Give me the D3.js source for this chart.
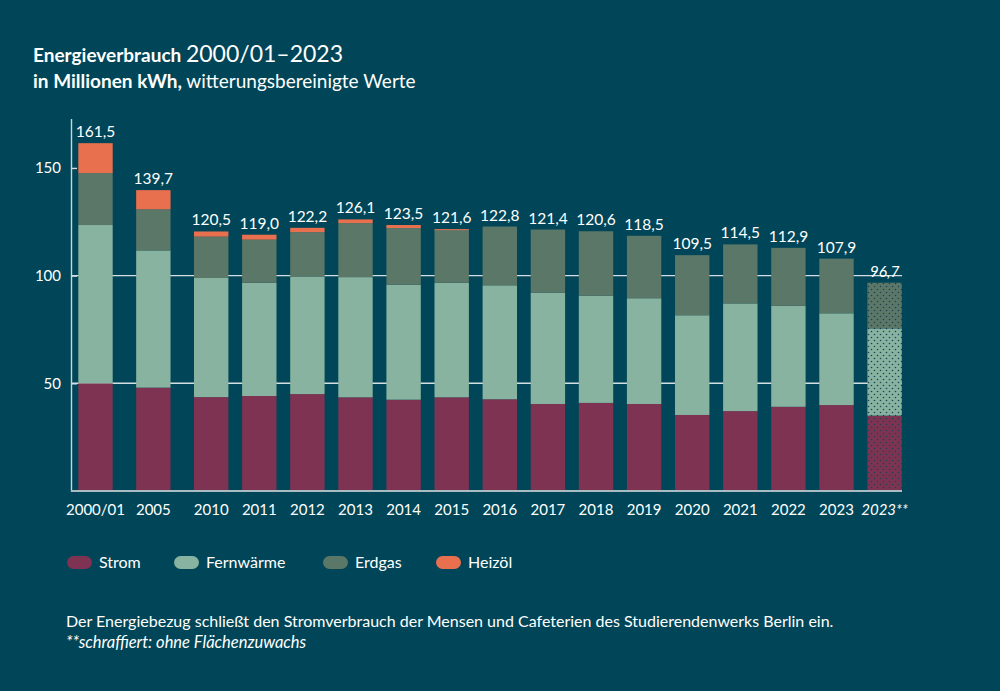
<!DOCTYPE html>
<html>
<head>
<meta charset="utf-8">
<script src="https://cdn.jsdelivr.net/npm/d3@7"></script>
<style>
  body { margin: 0; background: #004658; }
  svg { display: block; font-family: Lato, "Open Sans", sans-serif; }
</style>
</head>
<body>
<div id="chart"></div>
<script>
const width = 1000;
const height = 691;

// data (Mio. kWh)
const years = ["2000/01", "2005", "2010", "2011", "2012", "2013", "2014", "2015", "2016",
               "2017", "2018", "2019", "2020", "2021", "2022", "2023", "2023**"];
const strom = [50.0, 48.0, 43.6, 44.1, 45.0, 43.5, 42.4, 43.5, 42.6, 40.4, 40.9, 40.4, 35.3, 37.1, 39.1, 39.9, 35.0];
const fernwaerme = [73.5, 63.7, 55.3, 52.6, 54.5, 55.8, 53.4, 53.2, 52.9, 51.7, 49.8, 49.1, 46.3, 50.0, 46.9, 42.6, 40.5];
const erdgas = [24.1, 19.1, 19.2, 20.0, 20.7, 25.1, 26.3, 24.6, 27.3, 29.3, 29.9, 29.0, 27.9, 27.4, 26.9, 25.4, 21.2];
const heizoel = [13.9, 8.9, 2.4, 2.3, 2.0, 1.7, 1.4, 0.3, 0, 0, 0, 0, 0, 0, 0, 0, 0];
const totalLabels = ["161,5", "139,7", "120,5", "119,0", "122,2", "126,1", "123,5", "121,6", "122,8",
                     "121,4", "120,6", "118,5", "109,5", "114,5", "112,9", "107,9", "96,7"];
const hatched = ["2023**"];  // schraffiert: ohne Flächenzuwachs
const seriesNames = ["Strom", "Fernwärme", "Erdgas", "Heizöl"];
const yTicks = [50, 100, 150];
const gridTicks = [50, 100];

const colors = ["#7d3351", "#87b3a0", "#5b7768", "#e8704f"];
const bg = "#004658";

const svg = d3.select("#chart").append("svg")
    .attr("width", width)
    .attr("height", height);

svg.append("rect").attr("width", width).attr("height", height).attr("fill", bg);

// dotted patterns for the hatched bar
const defs = svg.append("defs");
colors.forEach((c, i) => {
  const p = defs.append("pattern")
      .attr("id", "dots" + i)
      .attr("patternUnits", "userSpaceOnUse")
      .attr("width", 6).attr("height", 6);
  p.append("rect").attr("width", 6).attr("height", 6).attr("fill", c);
  p.append("circle").attr("cx", 1.5).attr("cy", 1.5).attr("r", 0.8).attr("fill", "#1f4255");
  p.append("circle").attr("cx", 4.5).attr("cy", 4.5).attr("r", 0.8).attr("fill", "#1f4255");
});

// title
const title = svg.append("text").attr("x", 33).attr("y", 62).attr("fill", "#fff");
title.append("tspan").attr("font-weight", 700).attr("font-size", 19).text("Energieverbrauch ");
title.append("tspan").attr("font-size", 23).text("2000/01–2023");

const sub = svg.append("text").attr("x", 33).attr("y", 88).attr("fill", "#fff").attr("font-size", 19);
sub.append("tspan").attr("font-weight", 700).text("in Millionen kWh,");
sub.append("tspan").text(" witterungsbereinigte Werte");

// scales
const x = d3.scaleBand()
    .domain(years)
    .range([97.8, 901.8])
    .paddingInner(0.285)
    .paddingOuter(0);

// the first two bars sit a little further apart
const extraGap = 9.75;
const xPos = d => x(d) - extraGap * Math.max(0, 2 - years.indexOf(d));

const y = d3.scaleLinear()
    .domain([0, 173])
    .range([491, 118.4]);

const rows = years.map((yr, i) => ({
  year: yr, Strom: strom[i], "Fernwärme": fernwaerme[i], Erdgas: erdgas[i], "Heizöl": heizoel[i], label: totalLabels[i]
}));
const stacked = d3.stack().keys(seriesNames)(rows);

// grid lines
svg.append("g")
  .selectAll("line")
  .data(gridTicks)
  .join("line")
    .attr("x1", 71).attr("x2", 902)
    .attr("y1", d => y(d)).attr("y2", d => y(d))
    .attr("stroke", "#d5dfe2")
    .attr("stroke-width", 1.4);

// bars
svg.append("g")
  .selectAll("g")
  .data(stacked)
  .join("g")
  .each(function(s, si) {
    d3.select(this).selectAll("rect")
      .data(s.filter(d => d[1] - d[0] > 0))
      .join("rect")
        .attr("x", d => xPos(d.data.year))
        .attr("width", x.bandwidth())
        .attr("y", d => y(d[1]))
        .attr("height", d => Math.max(1, y(d[0]) - y(d[1])))
        .attr("fill", d => hatched.includes(d.data.year) ? `url(#dots${si})` : colors[si]);
  });

// total labels
svg.append("g")
  .attr("fill", "#fff")
  .attr("font-size", 15.5)
  .attr("text-anchor", "middle")
  .selectAll("text")
  .data(rows)
  .join("text")
    .attr("x", d => xPos(d.year) + x.bandwidth() / 2)
    .attr("y", d => y(d.Strom + d["Fernwärme"] + d.Erdgas + d["Heizöl"]) - 6)
    .attr("font-style", d => hatched.includes(d.year) ? "italic" : null)
    .text(d => d.label);

// y axis
const yAxis = svg.append("g")
    .attr("transform", "translate(71,0)")
    .call(d3.axisRight(y).tickValues(yTicks).tickSize(6).tickSizeOuter(0))
    .call(g => g.select(".domain").attr("stroke", "#c9d5d9").attr("stroke-width", 1.4));
yAxis.selectAll(".tick line").attr("stroke", "#d5dfe2").attr("stroke-width", 1.4);
yAxis.selectAll(".tick text")
    .attr("x", -10)
    .attr("text-anchor", "end")
    .attr("fill", "#fff")
    .attr("font-size", 15)
    .attr("font-family", "Lato, sans-serif");

// x axis baseline
svg.append("line")
    .attr("x1", 71).attr("x2", 902)
    .attr("y1", 491).attr("y2", 491)
    .attr("stroke", "#a9bcc2")
    .attr("stroke-width", 2);

// x labels
svg.append("g")
  .attr("fill", "#fff")
  .attr("font-size", 15)
  .attr("text-anchor", "middle")
  .selectAll("text")
  .data(years)
  .join("text")
    .attr("x", d => xPos(d) + x.bandwidth() / 2)
    .attr("y", 515)
    .attr("font-style", d => hatched.includes(d) ? "italic" : null)
    .text(d => d);

// legend
const legendX = [67, 174, 323, 436];
const legend = svg.append("g")
  .selectAll("g")
  .data(seriesNames)
  .join("g")
    .attr("transform", (d, i) => `translate(${legendX[i]},556)`);
legend.append("rect")
    .attr("width", 25).attr("height", 13).attr("rx", 6.5)
    .attr("fill", (d, i) => colors[i]);
legend.append("text")
    .attr("x", 32).attr("y", 12)
    .attr("fill", "#fff")
    .attr("font-size", 16)
    .text(d => d);

// footnote
svg.append("text")
    .attr("x", 66).attr("y", 627)
    .attr("fill", "#fff").attr("font-size", 16)
    .text("Der Energiebezug schließt den Stromverbrauch der Mensen und Cafeterien des Studierendenwerks Berlin ein.");
svg.append("text")
    .attr("x", 66).attr("y", 648)
    .attr("fill", "#fff").attr("font-size", 16.5)
    .attr("font-style", "italic")
    .text("**schraffiert: ohne Flächenzuwachs");
</script>
</body>
</html>
